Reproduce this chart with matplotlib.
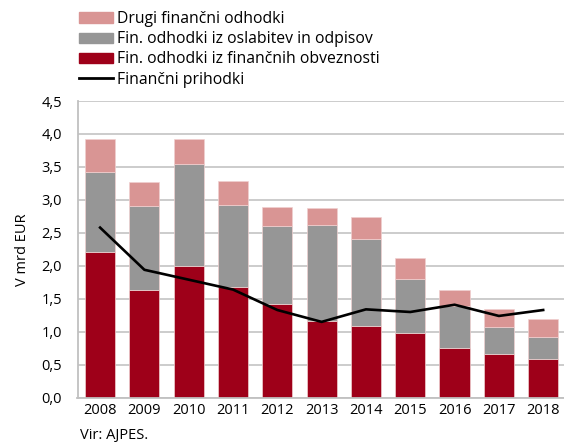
import matplotlib
matplotlib.use("Agg")
import matplotlib.pyplot as plt
import numpy as np
from matplotlib.patches import Patch
from matplotlib.lines import Line2D

plt.rcParams['font.family'] = ['Open Sans', 'DejaVu Sans']

years = ['2008', '2009', '2010', '2011', '2012', '2013', '2014', '2015', '2016', '2017', '2018']
obveznosti = [2.21, 1.63, 2.00, 1.68, 1.42, 1.16, 1.08, 0.98, 0.76, 0.67, 0.59]
oslabitve_top = [3.42, 2.91, 3.54, 2.92, 2.61, 2.62, 2.41, 1.80, 1.39, 1.07, 0.92]
skupaj = [3.92, 3.27, 3.93, 3.28, 2.89, 2.87, 2.74, 2.12, 1.64, 1.35, 1.19]
prihodki = [2.58, 1.94, 1.79, 1.64, 1.33, 1.15, 1.34, 1.30, 1.41, 1.24, 1.33]
yticks = [0.0, 0.5, 1.0, 1.5, 2.0, 2.5, 3.0, 3.5, 4.0, 4.5]

oslabitve = [t - b for t, b in zip(oslabitve_top, obveznosti)]
drugi = [s - t for s, t in zip(skupaj, oslabitve_top)]

c_red = '#9e0019'
c_gray = '#969696'
c_pink = '#d99594'
fs = 10.5
lfs = 11.3

fig = plt.figure(figsize=(5.64, 4.45), dpi=100)
ax = fig.add_axes([77.5/564, 47.3/445, 1 - 77.5/564, 296.7/445])

x = np.arange(len(years))
w = 0.68
ax.bar(x, obveznosti, w, color=c_red, edgecolor='#f0d0d0', linewidth=0.5, zorder=2)
ax.bar(x, oslabitve, w, bottom=obveznosti, color=c_gray, edgecolor='#f0d0d0', linewidth=0.5, zorder=2)
ax.bar(x, drugi, w, bottom=oslabitve_top, color=c_pink, edgecolor='#f0d0d0', linewidth=0.5, zorder=2)
ax.plot(x, prihodki, color='black', linewidth=1.9, zorder=3)

ax.set_xlim(-0.51, 10.47)
ax.set_ylim(0, 4.5)
ax.set_yticks(yticks)
ax.set_yticklabels([f'{v:.1f}'.replace('.', ',') for v in yticks], fontsize=fs)
ax.set_xticks(x)
ax.set_xticklabels(years, fontsize=fs)
ax.tick_params(axis='both', length=0)
ax.tick_params(axis='y', pad=11)
ax.tick_params(axis='x', pad=4)
ax.grid(axis='y', color='#c8c8c8', linewidth=1.3, zorder=0)
ax.set_axisbelow(True)
for s in ['top', 'right']:
    ax.spines[s].set_visible(False)
ax.spines['left'].set_color('#c0c0c0')
ax.spines['left'].set_linewidth(1.3)
ax.spines['bottom'].set_color('#c0c0c0')
ax.spines['bottom'].set_linewidth(1.3)
ax.set_ylabel('V mrd EUR', fontsize=fs, labelpad=8)

handles = [Patch(color=c_pink), Patch(color=c_gray), Patch(color=c_red),
           Line2D([], [], color='black', linewidth=2)]
labels = ['Drugi finančni odhodki', 'Fin. odhodki iz oslabitev in odpisov',
          'Fin. odhodki iz finančnih obveznosti', 'Finančni prihodki']
fig.legend(handles, labels, loc='upper left', bbox_to_anchor=(79/564, 1 - 11/445),
           frameon=False, fontsize=lfs, handlelength=2.15, handleheight=0.62,
           handletextpad=0.25, labelspacing=0.27, borderaxespad=0, borderpad=0)

fig.text(80/564, 1 - 436/445, 'Vir: AJPES.', fontsize=fs, va='center', ha='left')

fig.savefig('out.png', dpi=100)
